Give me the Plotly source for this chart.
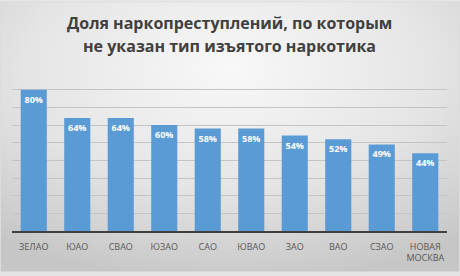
import base64
import plotly.graph_objects as go

categories = ["ЗЕЛАО", "ЮАО", "СВАО", "ЮЗАО", "САО", "ЮВАО", "ЗАО", "ВАО", "СЗАО", "НОВАЯ<br>МОСКВА"]
values = [80, 64, 64, 60, 58, 58, 54, 52, 49, 44]
labels = [f"{v}%" for v in values]
title_lines = ["Доля наркопреступлений, по которым", "не указан тип изъятого наркотика"]

W, H = 460, 276
ML, MR, MT, MB = 12, 13, 72, 42
PW, PH = W - ML - MR, H - MT - MB

svg = """<svg xmlns='http://www.w3.org/2000/svg' width='460' height='276' preserveAspectRatio='none'>
<defs><radialGradient id='g' cx='50%' cy='25%' r='80%'>
<stop offset='0%' stop-color='#f8f8f8'/><stop offset='55%' stop-color='#e5e5e5'/><stop offset='100%' stop-color='#c6c6c6'/>
</radialGradient></defs>
<rect width='460' height='276' fill='url(#g)'/>
<rect x='0.5' y='0.5' width='459' height='275' fill='none' stroke='#dcdcdc'/>
</svg>"""
src = "data:image/svg+xml;base64," + base64.b64encode(svg.encode()).decode()

fig = go.Figure(go.Bar(
    x=categories, y=values, text=labels,
    textposition="inside", insidetextanchor="end",
    textangle=0,
    textfont=dict(family="Open Sans", size=9, color="white", weight="bold"),
    marker=dict(color="#5b9bd5", line=dict(width=0)),
))

def py(px_from_top):
    return 1 + (MT - px_from_top) / PH

annotations = [
    dict(text=t, xref="paper", yref="paper", x=0.5, y=py(yc), xanchor="center", yanchor="middle",
         showarrow=False, font=dict(family="Open Sans", size=16, color="#404040", weight="bold"))
    for t, yc in zip(title_lines, [22, 46])
]

fig.update_layout(
    width=W, height=H,
    margin=dict(l=ML, r=MR, t=MT, b=MB),
    paper_bgcolor="#e6e6e6", plot_bgcolor="rgba(0,0,0,0)",
    bargap=0.4,
    showlegend=False,
    annotations=annotations,
    images=[dict(source=src, xref="paper", yref="paper", x=-ML / PW, y=1 + MT / PH,
                 sizex=W / PW, sizey=H / PH,
                 xanchor="left", yanchor="top", sizing="stretch", layer="below")],
    xaxis=dict(showline=True, linecolor="#404040", linewidth=1.5, ticks="",
               ticklabelstandoff=6,
               tickfont=dict(family="Open Sans", size=9, color="#595959")),
    yaxis=dict(range=[0, 90], dtick=10, showticklabels=False, showgrid=True,
               gridcolor="#c4c4c4", gridwidth=1, zeroline=False),
)
fig.write_html("out.html")
